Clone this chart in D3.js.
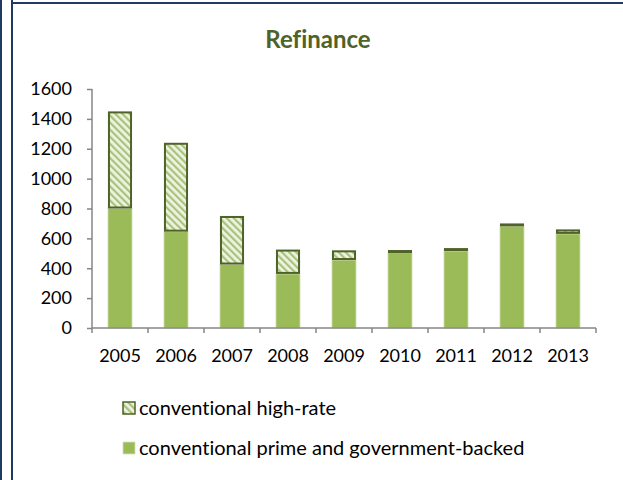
<!DOCTYPE html>
<html>
<head>
<meta charset="utf-8">
<script src="https://cdn.jsdelivr.net/npm/d3@7"></script>
<style>
  html, body { margin: 0; padding: 0; background: #fff; }
  svg { display: block; font-family: Lato, "Open Sans", sans-serif; font-variant-ligatures: none; }
</style>
</head>
<body>
<svg id="chart" width="623" height="480"></svg>
<script>
// Refinance volumes by year, stacked: prime/government-backed + high-rate
const years = ["2005", "2006", "2007", "2008", "2009", "2010", "2011", "2012", "2013"];
const primeGov = [800, 645, 425, 362, 455, 500, 515, 680, 630];
const highRate = [650, 595, 325, 163, 65, 22, 20, 20, 30];
const yTicks = [0, 200, 400, 600, 800, 1000, 1200, 1400, 1600];
const seriesNames = ["conventional high-rate", "conventional prime and government-backed"];

const svg = d3.select("#chart");
const W = 623, H = 480;
const FONT = "Lato, 'Open Sans', sans-serif";

// Frame lines along the left and top edges
const frame = "#1f3a60";
svg.append("rect").attr("x", 0).attr("y", 0).attr("width", 2).attr("height", H).attr("fill", frame);
svg.append("rect").attr("x", 11).attr("y", 0).attr("width", 2).attr("height", H).attr("fill", frame);
svg.append("rect").attr("x", 11).attr("y", 2).attr("width", W - 11).attr("height", 2).attr("fill", frame);

// Diagonal hatch for the high-rate segment
const defs = svg.append("defs");
const pat = defs.append("pattern")
  .attr("id", "hatch")
  .attr("patternUnits", "userSpaceOnUse")
  .attr("width", 5).attr("height", 5)
  .attr("patternTransform", "rotate(-45)");
pat.append("rect").attr("width", 5).attr("height", 5).attr("fill", "#eef3e2");
pat.append("rect").attr("x", 0).attr("width", 2.2).attr("height", 5).attr("fill", "#a9c27c");

const x = d3.scaleBand().domain(years).range([92, 596]).paddingInner(0.57).paddingOuter(0.285);
const y = d3.scaleLinear().domain([0, 1600]).range([328, 89]);

// Title
svg.append("text")
  .attr("x", 318).attr("y", 48)
  .attr("text-anchor", "middle")
  .attr("font-size", 24).attr("font-weight", "bold")
  .attr("font-family", FONT)
  .attr("fill", "#4f6228")
  .text("Refinance");

// Bars
const g = svg.append("g");
years.forEach((yr, i) => {
  const x0 = x(yr), bw = x.bandwidth();
  g.append("rect")
    .attr("x", x0).attr("width", bw)
    .attr("y", y(primeGov[i])).attr("height", y(0) - y(primeGov[i]))
    .attr("fill", "#9bbb59")
    .attr("stroke", "#d5e3bb").attr("stroke-width", 0.8);
  const top = primeGov[i] + highRate[i];
  g.append("rect")
    .attr("x", x0 + 1).attr("width", bw - 2)
    .attr("y", y(top) + 1).attr("height", Math.max(0, y(primeGov[i]) - y(top) - 2))
    .attr("fill", "url(#hatch)")
    .attr("stroke", "#4f6228").attr("stroke-width", 2);
});

// Axes
const axisColor = "#868686";
const yAxis = svg.append("g")
  .attr("transform", "translate(92,0)")
  .call(d3.axisLeft(y).tickValues(yTicks).tickSize(5).tickPadding(15).tickFormat(d3.format("d")));
const xAxis = svg.append("g")
  .attr("transform", "translate(0,328)")
  .call(d3.axisBottom(x).tickSize(0).tickPadding(21));

[yAxis, xAxis].forEach(a => {
  a.select(".domain").attr("stroke", axisColor).attr("stroke-width", 1.5);
  a.selectAll(".tick line").attr("stroke", axisColor).attr("stroke-width", 1.5);
  a.selectAll("text").attr("font-size", 18).attr("fill", "#000")
    .attr("font-family", FONT);
});
yAxis.select(".domain").attr("d", "M0,89V328");
xAxis.select(".domain").attr("d", "M92,0H596");

// Tick marks at band boundaries on the x axis
const step = x.step();
const bounds = d3.range(years.length + 1).map(k => 92 + k * step);
xAxis.selectAll(".bound").data(bounds).enter().append("line")
  .attr("class", "bound")
  .attr("x1", d => d).attr("x2", d => d)
  .attr("y1", 0).attr("y2", 5)
  .attr("stroke", axisColor).attr("stroke-width", 1.5);

// Legend
const legend = svg.append("g");
const items = [
  { name: seriesNames[0], fill: "url(#hatch)", stroke: "#4f6228", y: 402 },
  { name: seriesNames[1], fill: "#9bbb59", stroke: "#d5e3bb", y: 442 }
];
items.forEach(it => {
  legend.append("rect")
    .attr("x", 123).attr("y", it.y).attr("width", 12).attr("height", 12)
    .attr("fill", it.fill).attr("stroke", it.stroke).attr("stroke-width", it.stroke === "#4f6228" ? 1.5 : 0.8);
  legend.append("text")
    .attr("x", 139).attr("y", it.y + 13)
    .attr("font-size", 20).attr("fill", "#000")
    .attr("font-family", FONT)
    .text(it.name);
});
</script>
</body>
</html>
